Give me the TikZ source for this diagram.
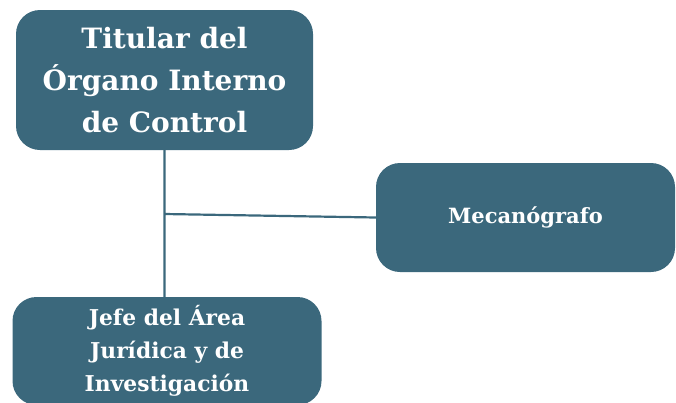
\documentclass[tikz,border=0pt]{standalone}
\usepackage{fontspec}
\setmainfont{DejaVu Serif}
\usepackage{xcolor}
\usepackage{tikz}
\usetikzlibrary{positioning}

\definecolor{cajaazul}{HTML}{3B687C}

\begin{document}
\begin{tikzpicture}[x=1pt,y=-1pt,node distance=137pt,on grid,
    caja/.style={fill=cajaazul,rounded corners=24pt,text=white,
        font=\bfseries,align=center,inner sep=0pt},
    linea/.style={draw=cajaazul,line width=2.2pt}]
           \useasboundingbox (0,0) rectangle (676,402);
           \node[caja, minimum width=297pt, minimum height=140pt,
                 font=\bfseries\fontsize{28}{42}\selectfont] (titular) at (164.5,80)
                 {Titular del\\Órgano Interno\\de Control};
           \node[caja, minimum width=299pt, minimum height=109pt,
                 font=\bfseries\fontsize{21}{24}\selectfont] (mecano) [right=361pt of titular, yshift=-137.5pt]
                 {Mecanógrafo};
           \node[caja, minimum width=309pt, minimum height=108pt,
                 font=\bfseries\fontsize{21.8}{33}\selectfont] (jefe) [below=271pt of titular, xshift=2.5pt]
                 {Jefe del Área\\Jurídica y de\\Investigación};
           \coordinate (enlace) at (titular.south |- 0,214);
           \path[linea]
            (titular.south) -- (titular.south |- jefe.north)
            (enlace) -- (mecano.west);
        \end{tikzpicture}
\end{document}
